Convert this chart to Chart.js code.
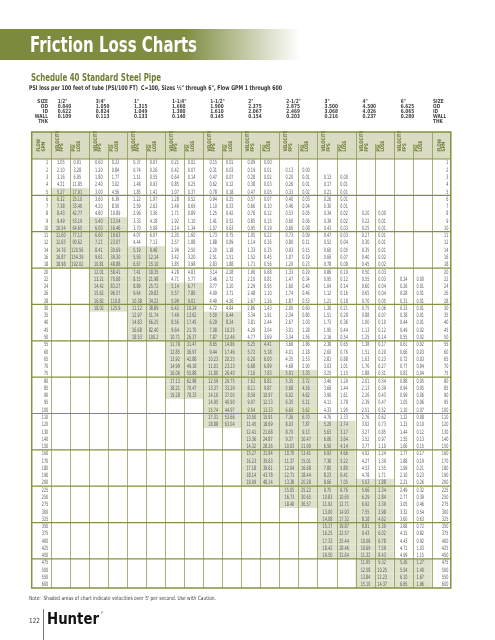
<!DOCTYPE html>
<html><head><meta charset="utf-8">
<script src="https://cdn.jsdelivr.net/npm/chart.js@4.4.1/dist/chart.umd.min.js"></script>
<style>html,body{margin:0;padding:0;background:#fff;}canvas{display:block;}</style>
</head><body>
<canvas id="c" width="495" height="640"></canvas>
<script>
// ---------- DATA ----------
const flows=[1,2,3,4,5,6,7,8,9,10,11,12,14,16,18,20,22,24,26,28,30,35,40,45,50,55,60,65,70,75,80,85,90,95,100,110,120,130,140,150,160,170,180,190,200,225,250,275,300,325,350,375,400,425,450,475,500,550,600];
const sizes=['1/2"','3/4"','1"','1-1/4"','1-1/2"','2"','2-1/2"','3"','4"','6"'];
const od=['0.840','1.050','1.315','1.660','1.900','2.375','2.875','3.500','4.500','6.625'];
const idIn=['0.622','0.824','1.049','1.380','1.610','2.067','2.469','3.068','4.026','6.065'];
const wallThk=['0.109','0.113','0.133','0.140','0.145','0.154','0.203','0.216','0.237','0.280'];
// first flow (GPM) listed for each size
const startFlow=[1,1,1,1,1,1,2,3,8,22];

const v_050=[1.05,2.10,3.16,4.21,5.27,6.32,7.38,8.43,9.49,10.54,11.60,12.65,14.76,16.87,18.98];
const l_050=[0.91,3.28,6.95,11.85,17.91,25.10,33.40,42.77,53.19,64.65,77.13,90.62,120.56,154.39,192.02];
const v_075=[0.60,1.20,1.80,2.40,3.00,3.60,4.20,4.80,5.40,6.00,6.60,7.21,8.41,9.61,10.81,12.01,13.21,14.42,15.62,16.82,18.02];
const l_075=[0.23,0.84,1.77,3.02,4.56,6.39,8.50,10.89,13.54,16.46,19.63,23.07,30.69,39.30,48.88,58.41,70.68,83.27,96.57,110.8,125.9];
const v_100=[0.37,0.74,1.11,1.48,1.85,2.22,2.59,2.96,3.33,3.70,4.07,4.44,5.19,5.93,6.67,7.41,8.15,8.89,9.64,10.38,11.12,12.97,14.83,16.68,18.53];
const l_100=[0.07,0.26,0.55,0.93,1.41,1.97,2.63,3.36,4.18,5.08,6.07,7.13,9.48,12.14,15.10,18.35,21.98,25.72,29.83,34.22,38.89,51.74,66.25,82.40,100.2];
const v_125=[0.21,0.42,0.64,0.85,1.07,1.28,1.49,1.71,1.92,2.14,2.35,2.57,2.99,3.42,3.85,4.28,4.71,5.14,5.57,5.99,6.42,7.49,8.56,9.64,10.71,11.78,12.85,13.92,14.99,16.06,17.13,18.21,19.28];
const l_125=[0.02,0.07,0.14,0.25,0.37,0.52,0.69,0.89,1.10,1.34,1.60,1.88,2.50,3.20,3.98,4.83,5.77,6.77,7.86,9.01,10.24,13.62,17.45,21.70,26.37,31.47,36.97,42.88,49.18,55.88,62.98,70.47,78.33];
const v_150=[0.15,0.31,0.47,0.62,0.78,0.94,1.10,1.25,1.41,1.57,1.73,1.88,2.20,2.51,2.83,3.14,3.46,3.77,4.09,4.40,4.72,5.50,6.29,7.08,7.87,8.65,9.44,10.23,11.01,11.80,12.59,13.37,14.16,14.95,15.74,17.31,18.88];
const l_150=[0.01,0.03,0.07,0.12,0.18,0.25,0.33,0.42,0.52,0.63,0.75,0.89,1.18,1.51,1.88,2.28,2.72,3.20,3.71,4.26,4.84,6.44,8.24,10.25,12.46,14.86,17.46,20.25,23.23,26.40,29.75,33.29,37.00,40.90,44.97,53.66,63.04];
const v_200=[0.09,0.19,0.28,0.38,0.47,0.57,0.66,0.76,0.85,0.95,1.05,1.14,1.33,1.52,1.71,1.90,2.10,2.29,2.48,2.67,2.86,3.34,3.81,4.29,4.77,5.25,5.72,6.20,6.68,7.16,7.63,8.11,8.59,9.07,9.54,10.50,11.45,12.41,13.36,14.32,15.27,16.23,17.18,18.14,19.09];
const l_200=[0.00,0.01,0.02,0.03,0.05,0.07,0.10,0.12,0.15,0.19,0.22,0.26,0.35,0.45,0.56,0.68,0.81,0.95,1.10,1.26,1.43,1.91,2.44,3.04,3.69,4.41,5.18,6.00,6.89,7.83,8.82,9.87,10.97,12.13,13.33,15.91,18.69,21.68,24.87,28.26,31.84,35.63,39.61,43.78,48.14];
const v_250=[0.13,0.20,0.26,0.33,0.40,0.46,0.53,0.60,0.66,0.73,0.80,0.93,1.07,1.20,1.33,1.47,1.60,1.74,1.87,2.00,2.34,2.67,3.01,3.34,3.68,4.01,4.35,4.68,5.01,5.35,5.68,6.02,6.35,6.69,7.36,8.03,8.70,9.37,10.03,10.70,11.37,12.04,12.71,13.38,15.05,16.73,18.40];
const l_250=[0.00,0.01,0.01,0.02,0.03,0.04,0.05,0.06,0.08,0.09,0.11,0.15,0.19,0.23,0.29,0.34,0.40,0.46,0.53,0.60,0.80,1.03,1.28,1.56,1.86,2.18,2.53,2.90,3.30,3.72,4.16,4.62,5.11,5.62,6.70,7.87,9.13,10.47,11.90,13.41,15.01,16.68,18.44,20.28,25.22,30.65,36.57];
const v_300=[0.13,0.17,0.21,0.26,0.30,0.34,0.39,0.43,0.47,0.52,0.60,0.69,0.78,0.86,0.95,1.04,1.12,1.21,1.30,1.51,1.73,1.95,2.16,2.38,2.60,2.81,3.03,3.25,3.46,3.68,3.90,4.11,4.33,4.76,5.20,5.63,6.06,6.50,6.93,7.36,7.80,8.23,8.66,9.75,10.83,11.92,13.00,14.08,15.17,16.25,17.33,18.42,19.50];
const l_300=[0.00,0.01,0.01,0.01,0.01,0.02,0.02,0.03,0.03,0.04,0.05,0.07,0.08,0.10,0.12,0.14,0.16,0.18,0.21,0.28,0.36,0.44,0.54,0.65,0.76,0.88,1.01,1.15,1.29,1.44,1.61,1.78,1.95,2.33,2.74,3.17,3.64,4.14,4.66,5.22,5.80,6.41,7.05,8.76,10.65,12.71,14.93,17.32,19.87,22.57,25.44,28.46,31.64];
const v_400=[0.20,0.22,0.25,0.27,0.30,0.35,0.40,0.45,0.50,0.55,0.60,0.65,0.70,0.75,0.88,1.00,1.13,1.25,1.38,1.51,1.63,1.76,1.88,2.01,2.13,2.26,2.39,2.51,2.76,3.02,3.27,3.52,3.77,4.02,4.27,4.53,4.78,5.03,5.66,6.29,6.92,7.55,8.18,8.81,9.43,10.06,10.69,11.32,11.95,12.58,13.84,15.10];
const l_400=[0.00,0.01,0.01,0.01,0.01,0.01,0.02,0.02,0.03,0.03,0.04,0.04,0.05,0.06,0.07,0.10,0.12,0.14,0.17,0.20,0.23,0.27,0.31,0.34,0.39,0.43,0.47,0.52,0.62,0.73,0.85,0.97,1.10,1.24,1.39,1.55,1.71,1.88,2.34,2.84,3.39,3.98,4.62,5.30,6.02,6.78,7.59,8.43,9.32,10.25,12.23,14.37];
const v_600=[0.24,0.26,0.28,0.31,0.33,0.38,0.44,0.49,0.55,0.61,0.66,0.72,0.77,0.83,0.88,0.94,0.99,1.05,1.10,1.22,1.33,1.44,1.55,1.66,1.77,1.88,1.99,2.10,2.21,2.49,2.77,3.05,3.32,3.60,3.88,4.15,4.43,4.71,4.99,5.26,5.54,6.10,6.65];
const l_600=[0.00,0.01,0.01,0.01,0.01,0.01,0.01,0.02,0.02,0.02,0.03,0.03,0.04,0.04,0.05,0.05,0.06,0.06,0.07,0.08,0.10,0.12,0.13,0.15,0.17,0.19,0.21,0.23,0.26,0.32,0.39,0.46,0.54,0.63,0.72,0.82,0.92,1.03,1.15,1.27,1.40,1.67,1.96];

const velocity=[v_050,v_075,v_100,v_125,v_150,v_200,v_250,v_300,v_400,v_600];
const loss=[l_050,l_075,l_100,l_125,l_150,l_200,l_250,l_300,l_400,l_600];
const cautionVelocity=5;

// ---------- TABLE BUILD ----------
function cellAt(si,ri){
  const off=flows.indexOf(startFlow[si]);
  const k=ri-off;
  if(k<0||k>=velocity[si].length) return null;
  return {v:velocity[si][k], l:loss[si][k]};
}
function fmt(n){
  const s=String(n);const d=s.indexOf('.')<0?0:s.length-s.indexOf('.')-1;
  return (n>=100&&d===1)? n.toFixed(1): n.toFixed(2);
}

const OLIVE='#84913f', HEAD='#d9dcc2', SHADE='#dee2cc', TXT='#5a5a5a';
const FONT='"Liberation Sans Narrow","DejaVu Sans Condensed","Roboto Condensed",sans-serif';

function fitText(ctx,t,x,y,w,align){
  const m=ctx.measureText(t).width;
  const s=Math.min(1,w/m);
  ctx.save();ctx.translate(x,y);ctx.scale(s,1);
  ctx.textAlign=align||'left';
  ctx.fillText(t,0,0);ctx.restore();
}
function sq(ctx,t,x,y,s,align){ctx.save();ctx.translate(x,y);ctx.scale(s,1);ctx.textAlign=align||'center';ctx.fillText(t,0,0);ctx.restore();}

const tablePlugin={
  id:'tablePlugin',
  afterDraw(chart){
    const ctx=chart.ctx, X=chart.scales.x, Y=chart.scales.y;
    const x0=X.getPixelForValue(0), x1=X.getPixelForValue(22);
    const y0=Y.getPixelForValue(0), y1=Y.getPixelForValue(flows.length);
    const hTop=132;
    ctx.save();
    // banner
    const g=ctx.createLinearGradient(0,0,300,0);
    g.addColorStop(0,'#7b8a3c');g.addColorStop(0.62,'#808e43');g.addColorStop(1,'rgba(255,255,255,1)');
    ctx.fillStyle=g;ctx.fillRect(0,29,300,31);
    ctx.fillStyle='#fff';ctx.font='bold 21px '+FONT;ctx.textBaseline='alphabetic';
    fitText(ctx,'Friction Loss Charts',30,52,167);
    ctx.fillStyle='#6f7d33';ctx.font='bold 10px '+FONT;
    fitText(ctx,'Schedule 40 Standard Steel Pipe',31,81,130);
    ctx.fillStyle='#333';ctx.font='bold 6.5px '+FONT;
    fitText(ctx,'PSI loss per 100 feet of tube (PSI/100 FT)  C=100, Sizes ½" through 6", Flow GPM 1 through 600',29,90,253);
    // size block
    ctx.font='bold 5.6px '+FONT;ctx.fillStyle='#444';ctx.textBaseline='middle';
    const labs=['SIZE','OD','ID','WALL','THK'];const ly=[102,107,112,117,122];
    labs.forEach((t,i)=>{sq(ctx,t,48,ly[i],0.85,'right');sq(ctx,t,433,ly[i],0.85,'left');});
    for(let s=0;s<10;s++){
      const sx=X.getPixelForValue(1+2*s)+7;
      sq(ctx,sizes[s],sx,ly[0],0.85,'left');
      sq(ctx,od[s],sx,ly[1],0.85,'left');
      sq(ctx,idIn[s],sx,ly[2],0.85,'left');
      sq(ctx,wallThk[s],sx,ly[3],0.85,'left');
    }
    // header
    ctx.fillStyle=HEAD;ctx.fillRect(x0,hTop,x1-x0,y0-hTop);
    // shading + text
    ctx.font='6px '+FONT;
    const ds=7.6/ctx.measureText('0.00').width;
    for(let r=0;r<flows.length;r++){
      const yt=Y.getPixelForValue(r), yb=Y.getPixelForValue(r+1), yc=(yt+yb)/2;
      for(let s=0;s<10;s++){
        const c=cellAt(s,r);if(!c)continue;
        const xa=X.getPixelForValue(1+2*s), xb=X.getPixelForValue(2+2*s), xc=X.getPixelForValue(3+2*s);
        if(c.v>cautionVelocity){ctx.fillStyle=SHADE;ctx.fillRect(xa,yt,xc-xa,yb-yt);}
        ctx.fillStyle=TXT;ctx.textBaseline='middle';
        sq(ctx,fmt(c.v),(xa+xb)/2+0.5,yc+0.3,ds,'center');
        sq(ctx,fmt(c.l),(xb+xc)/2-2,yc+0.3,ds,'center');
      }
      ctx.fillStyle=TXT;
      sq(ctx,String(flows[r]),X.getPixelForValue(1)-2.5,yc+0.3,ds,'right');
      sq(ctx,String(flows[r]),X.getPixelForValue(22)-2.5,yc+0.3,ds,'right');
    }
    // vertical lines
    ctx.strokeStyle=OLIVE;
    for(let c=1;c<22;c++){
      const x=Math.round(X.getPixelForValue(c))+0.5;
      ctx.lineWidth=0.7;ctx.beginPath();
      const pair=(c%2===1);
      ctx.moveTo(x,pair?hTop:144);ctx.lineTo(x,y1);ctx.stroke();
    }
    // group lines
    ctx.lineWidth=1.2;
    for(let r=5;r<flows.length;r+=5){
      const y=Y.getPixelForValue(r);
      ctx.beginPath();ctx.moveTo(x0,y);ctx.lineTo(x1,y);ctx.stroke();
    }
    ctx.beginPath();ctx.moveTo(x0,y0);ctx.lineTo(x1,y0);ctx.stroke();
    ctx.lineWidth=1.5;ctx.strokeRect(x0,hTop,x1-x0,y1-hTop);
    // header texts (rotated)
    ctx.fillStyle='#6b7833';ctx.font='bold 5px '+FONT;ctx.textBaseline='middle';
    function rot(t,x,yb){ctx.save();ctx.translate(x,yb);ctx.rotate(-Math.PI/2);ctx.scale(0.85,1);ctx.textAlign='left';ctx.fillText(t,0,0);ctx.restore();}
    for(let s=0;s<10;s++){
      const xa=X.getPixelForValue(1+2*s), xb=X.getPixelForValue(2+2*s);
      rot('VELOCITY',xa+6.5,151.5);rot('FPS',xa+11,151.5);
      rot('PSI',xb+4,151.5);rot('LOSS',xb+8.5,151.5);
    }
    [[0],[21]].forEach(([c])=>{const xa=X.getPixelForValue(c);rot('FLOW',xa+7.5,151.5);rot('GPM',xa+12,151.5);});
    // note & footer
    ctx.fillStyle='#444';ctx.font='5.6px '+FONT;ctx.textBaseline='middle';
    fitText(ctx,"Note:  Shaded areas of chart indicate velocities over 5' per second. Use with Caution.",29,599,187);
    ctx.font='7px '+FONT;ctx.fillStyle='#333';fitText(ctx,'122',29,621,11);
    ctx.strokeStyle='#555';ctx.lineWidth=0.8;ctx.beginPath();ctx.moveTo(43.5,609);ctx.lineTo(43.5,640);ctx.stroke();
    ctx.fillStyle='#111';ctx.font='900 15px "DejaVu Sans",sans-serif';ctx.textBaseline='alphabetic';
    fitText(ctx,'Hunter',47,624,52);
    ctx.font='3px sans-serif';ctx.fillText('®',101,614);
    ctx.restore();
  }
};

new Chart(document.getElementById('c'),{
  type:'scatter',
  data:{datasets:[{data:[],pointRadius:0}]},
  options:{
    responsive:false,animation:false,
    layout:{padding:{left:31.7,right:44.2,top:159,bottom:52}},
    plugins:{legend:{display:false},tooltip:{enabled:false}},
    scales:{
      x:{type:'linear',min:0,max:22,display:false},
      y:{type:'linear',min:0,max:flows.length,reverse:true,display:false}
    }
  },
  plugins:[tablePlugin]
});
</script>
</body></html>
